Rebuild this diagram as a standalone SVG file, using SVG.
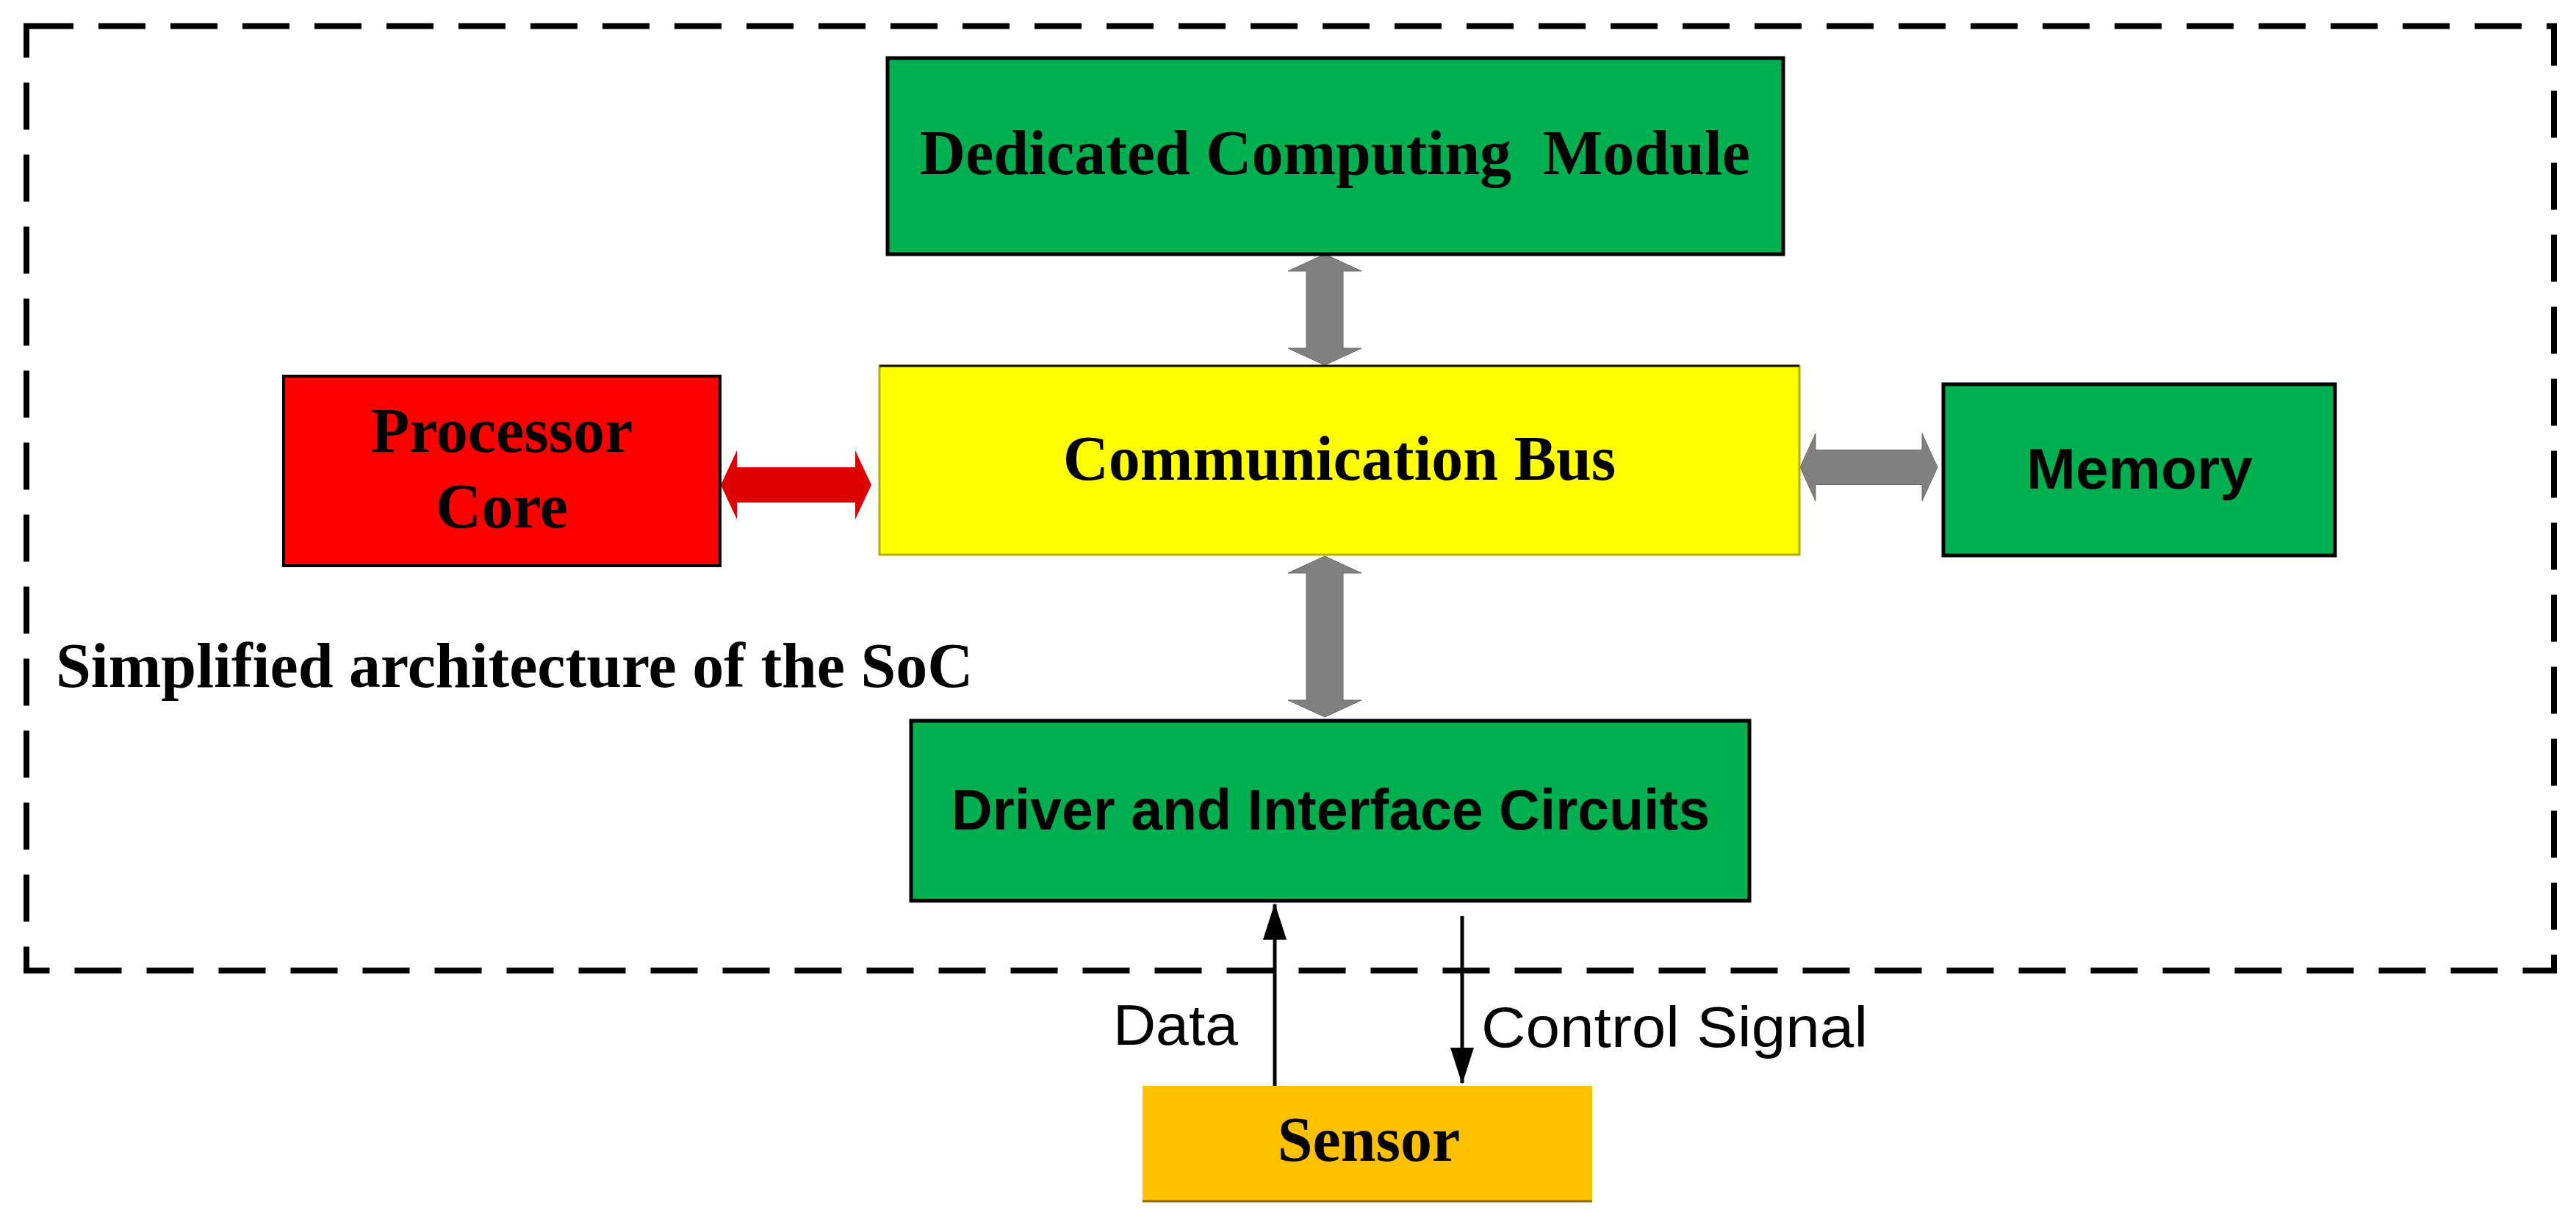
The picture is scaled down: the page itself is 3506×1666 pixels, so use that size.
<svg xmlns="http://www.w3.org/2000/svg" width="3506" height="1666" viewBox="0 0 3506 1666">
<style>
.serif{font-family:"Liberation Serif","Times New Roman",serif;font-weight:bold;font-size:86px;fill:#000}
.sans{font-family:"Liberation Sans",Arial,sans-serif;font-weight:bold;font-size:78px;fill:#000}
.sansn{font-family:"Liberation Sans",Arial,sans-serif;font-weight:normal;font-size:78px;fill:#000}
.green{fill:#00B050;stroke:#000;stroke-width:5}
.gray{fill:#808080;stroke:#6a6a6a;stroke-width:1}
.sig{stroke:#000;stroke-width:5;fill:none}
</style>
<defs>
<marker id="ah" markerUnits="userSpaceOnUse" markerWidth="50" markerHeight="32" refX="48" refY="16" orient="auto">
<path d="M0,0 L50,16 L0,32 Z" fill="#000"/>
</marker>
</defs>
<rect width="3506" height="1666" fill="#fff"/>
<rect id="soc-boundary" x="36" y="35.5" width="3440" height="1285.5" fill="none" stroke="#000" stroke-width="8" stroke-dasharray="64 34"/>
<text class="serif" x="76" y="935">Simplified architecture of the SoC</text>
<g id="connectors">
<polygon class="gray" points="1803,346 1853,369 1828,369 1828,474 1853,474 1803,497 1753,474 1778,474 1778,369 1753,369"/>
<polygon class="gray" points="1803,757 1853,780 1828,780 1828,953 1853,953 1803,976 1753,953 1778,953 1778,780 1753,780"/>
<polygon fill="#DD0000" points="981,660 1003,613 1003,636 1164,636 1164,613 1186,660 1164,707 1164,684 1003,684 1003,707"/>
<polygon class="gray" points="2450,636 2471,590 2471,612.5 2616,612.5 2616,590 2637,636 2616,682 2616,659.5 2471,659.5 2471,682"/>
<line class="sig" x1="1735" y1="1478" x2="1735" y2="1231" marker-end="url(#ah)"/>
<line class="sig" x1="1990" y1="1247" x2="1990" y2="1474" marker-end="url(#ah)"/>
<text class="sansn" x="1515" y="1422" textLength="170" lengthAdjust="spacingAndGlyphs">Data</text>
<text class="sansn" x="2016" y="1425" textLength="526" lengthAdjust="spacingAndGlyphs">Control Signal</text>
</g>
<g id="dcm">
<rect class="green" x="1208" y="79" width="1219" height="267"/>
<text class="serif" x="1817" y="237" text-anchor="middle" xml:space="preserve">Dedicated Computing  Module</text>
</g>
<g id="bus">
<rect x="1197" y="498" width="1252" height="257" fill="#FFFF00" stroke="#B0B000" stroke-width="3"/>
<line x1="1197" y1="498" x2="2449" y2="498" stroke="#111" stroke-width="3"/>
<text class="serif" x="1823" y="653" text-anchor="middle">Communication Bus</text>
</g>
<g id="processor">
<rect x="386" y="512" width="594" height="258" fill="#FF0000" stroke="#000" stroke-width="4"/>
<text class="serif" x="683" y="615" text-anchor="middle">Processor</text>
<text class="serif" x="683" y="718" text-anchor="middle">Core</text>
</g>
<g id="memory">
<rect class="green" x="2645" y="523" width="533" height="233" stroke-width="4"/>
<text class="sans" x="2758" y="665" textLength="308" lengthAdjust="spacingAndGlyphs">Memory</text>
</g>
<g id="driver">
<rect class="green" x="1240" y="981" width="1141" height="245" stroke-width="4"/>
<text class="sans" x="1295" y="1129" textLength="1032" lengthAdjust="spacingAndGlyphs">Driver and Interface Circuits</text>
</g>
<g id="sensor">
<rect x="1555" y="1478" width="612" height="157" fill="#FFC000"/>
<line x1="1555" y1="1635" x2="2167" y2="1635" stroke="#8B6A00" stroke-width="3"/>
<text class="serif" x="1863" y="1580" text-anchor="middle">Sensor</text>
</g>
</svg>
